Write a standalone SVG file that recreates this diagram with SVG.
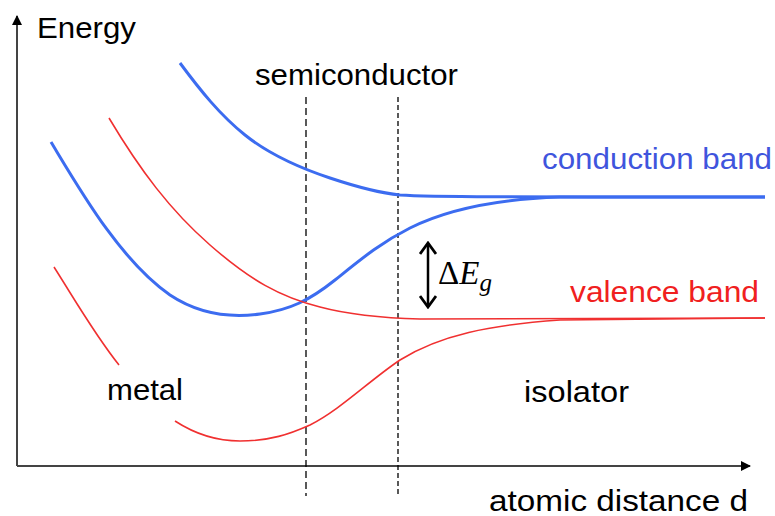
<svg xmlns="http://www.w3.org/2000/svg" width="775" height="516" viewBox="0 0 775 516">
<style>
.lbl{font-family:"Liberation Sans",Arial,sans-serif;font-size:29px;fill:#000}
.blue{fill:none;stroke:#3c6cf0;stroke-width:3}
.red{fill:none;stroke:#f03030;stroke-width:1.6}
.dash{fill:none;stroke:#000;stroke-width:1.3;stroke-dasharray:7,4}
.axis{fill:none;stroke:#444;stroke-width:2}
</style>
<defs>
<marker id="ah" markerWidth="10" markerHeight="10" refX="9" refY="5" orient="auto" markerUnits="userSpaceOnUse">
<path d="M0,0 L10,5 L0,10 Z" fill="#000"/>
</marker>
<marker id="dh" markerWidth="14" markerHeight="18" refX="12" refY="9" orient="auto-start-reverse" markerUnits="userSpaceOnUse">
<path d="M1,1 L12,9 L1,17" fill="none" stroke="#000" stroke-width="2.8"/>
</marker>
</defs>
<rect width="775" height="516" fill="#fff"/>
<g id="connectors">
<path class="axis" d="M17,466 L17,16" marker-end="url(#ah)"/>
<path class="axis" d="M17,466 L750,466" marker-end="url(#ah)"/>
<path class="dash" d="M306,97 L306,496"/>
<path class="dash" d="M398,97 L398,497" style="stroke-dasharray:5,3"/>
<path class="blue" d="M180,63 C200,90 220,115 245,135 C270,155 300,168 330,178 C360,188 380,193 400,195 C430,197 500,197 765,197"/>
<path class="blue" d="M51,142 C80,190 120,260 170,295 C200,315 230,318 260,314 C290,310 310,300 335,280 C360,260 380,243 410,228 C450,208 500,199 560,197 L765,197"/>
<path class="red" d="M109,118 C140,170 170,210 210,245 C250,280 280,297 320,307 C350,315 380,318 420,319 L765,318"/>
<path class="red" d="M54,267 C75,300 95,335 119,365"/>
<path class="red" d="M175,421 C195,434 215,441 240,441 C270,441 290,434 310,425 C340,410 370,380 400,360 C440,335 490,325 560,320 L765,318"/>
<path d="M428,243 L428,307" fill="none" stroke="#000" stroke-width="2.5" marker-start="url(#dh)" marker-end="url(#dh)"/>
</g>
<g id="energy"><text class="lbl" x="37" y="38" textLength="99" lengthAdjust="spacingAndGlyphs">Energy</text></g>
<g id="semiconductor"><text class="lbl" x="255" y="85" textLength="203" lengthAdjust="spacingAndGlyphs">semiconductor</text></g>
<g id="conduction"><text class="lbl" x="542" y="169" textLength="230" lengthAdjust="spacingAndGlyphs" style="fill:#3f55dd">conduction band</text></g>
<g id="valence"><text class="lbl" x="570" y="302" textLength="189" lengthAdjust="spacingAndGlyphs" style="fill:#f02020">valence band</text></g>
<g id="metal"><text class="lbl" x="107" y="400" textLength="76" lengthAdjust="spacingAndGlyphs">metal</text></g>
<g id="isolator"><text class="lbl" x="524" y="402" textLength="105" lengthAdjust="spacingAndGlyphs">isolator</text></g>
<g id="distance"><text class="lbl" x="489" y="511" textLength="259" lengthAdjust="spacingAndGlyphs">atomic distance d</text></g>
<g id="gap"><text x="438" y="284" style="font-family:'Liberation Serif','DejaVu Serif',serif;font-size:33px;fill:#000">Δ<tspan font-style="italic">E</tspan><tspan font-style="italic" font-size="25" dy="7">g</tspan></text></g>
</svg>
